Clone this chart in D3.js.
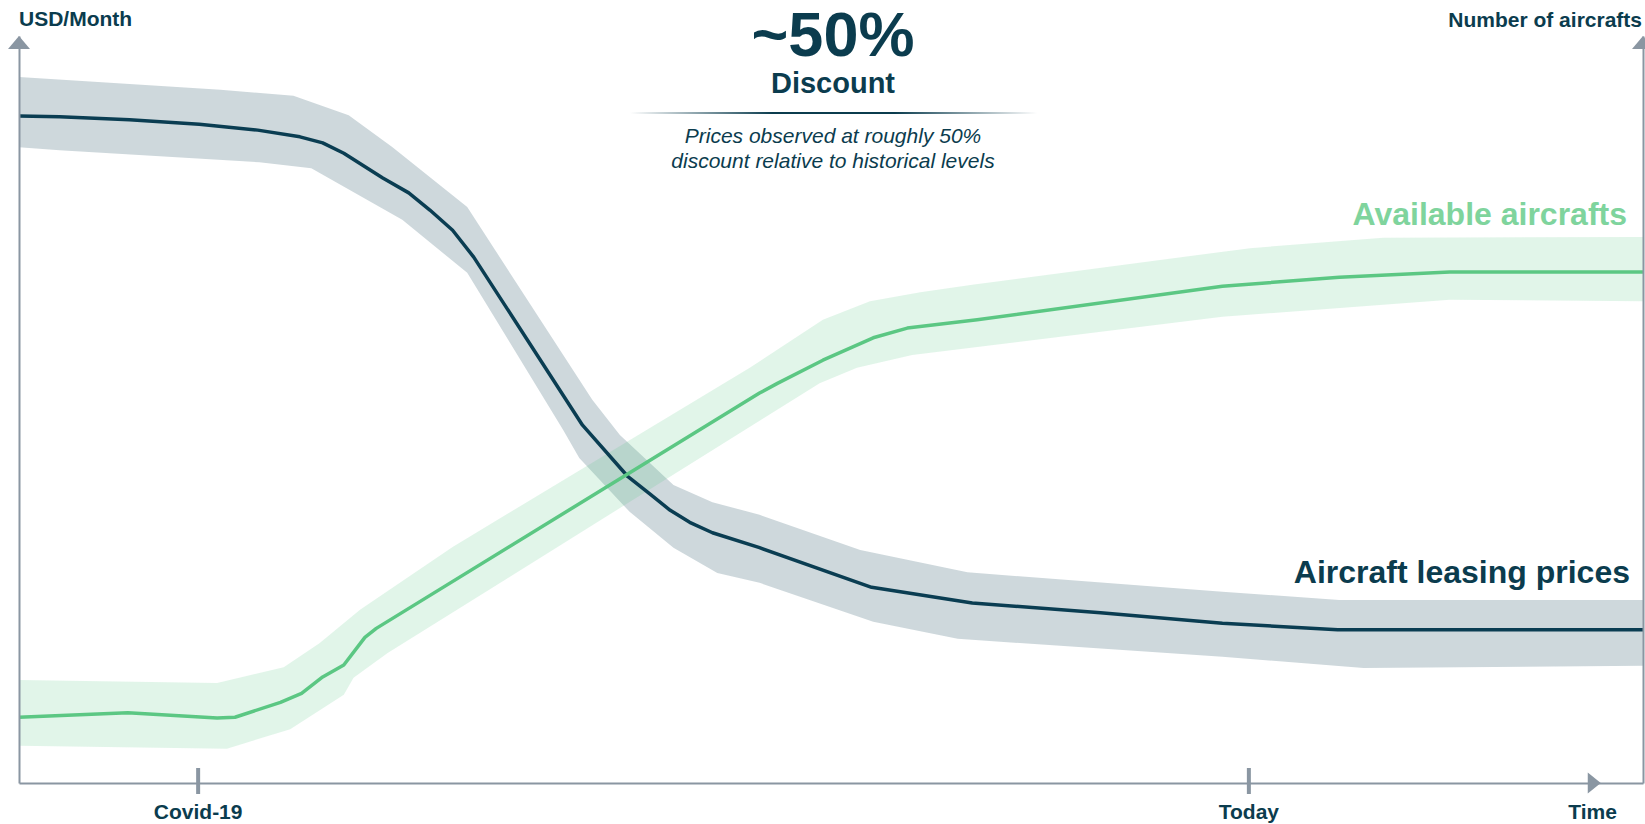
<!DOCTYPE html>
<html>
<head>
<meta charset="utf-8">
<script src="https://cdn.jsdelivr.net/npm/d3@7"></script>
<style>
  body { margin: 0; background: #fff; }
  svg text { font-family: "Liberation Sans", Arial, sans-serif; }
</style>
</head>
<body>
<script>
// Chart params
var svgWidth = 1645;
var svgHeight = 824;
var darkColor = "#0a3d52";
var greenColor = "#5bc783";
var axisColor = "#8a96a2";
var textColor = "#0b3c4e";

// Data: [time, value] on a 0-100 scale (schematic chart, no real units)
var timeDomain = [0, 100];
var valueDomain = [0, 100];
var tickTimes = [11.0, 75.7];
var tickLabels = ["Covid-19", "Today"];

var priceLine = [[0, 89.3], [2.5, 89.2], [6.8, 88.8], [11.1, 88.2], [14.7, 87.4], [17.3, 86.5],
  [18.7, 85.7], [20.0, 84.3], [22.4, 81.0], [24.0, 79.0], [25.3, 76.7], [26.7, 74.0], [28.0, 70.4],
  [34.7, 47.9], [37.5, 41.0], [38.9, 38.6], [40.1, 36.5], [41.3, 34.9], [42.7, 33.5], [45.6, 31.5],
  [52.5, 26.2], [58.7, 24.1], [66.6, 22.8], [74.1, 21.4], [81.2, 20.5], [100, 20.5]];
var priceUpper = [[0, 94.5], [12.4, 92.8], [16.9, 92.0], [20.3, 89.4], [23.0, 85.1], [27.6, 77.1],
  [35.3, 51.3], [37.0, 46.6], [40.3, 39.9], [42.7, 37.6], [45.6, 35.9], [51.8, 31.2], [58.4, 28.2],
  [74.1, 25.6], [81.3, 24.5], [100, 24.5]];
var priceLower = [[0, 85.1], [2.5, 84.7], [14.8, 83.1], [18.0, 82.3], [23.6, 75.4], [27.6, 68.3],
  [33.5, 47.3], [34.5, 43.5], [37.6, 36.3], [40.3, 31.5], [43.0, 28.1], [45.6, 26.8], [52.6, 21.6],
  [57.8, 19.3], [74.1, 16.9], [82.8, 15.4], [100, 15.7]];

var fleetLine = [[0, 8.8], [6.7, 9.4], [12.2, 8.7], [13.3, 8.8], [16.1, 10.8], [17.4, 12.0],
  [18.7, 14.2], [20.0, 15.8], [21.3, 19.5], [22.0, 20.7], [45.6, 52.2], [46.7, 53.5], [49.5, 56.6],
  [52.6, 59.6], [54.7, 60.9], [59.0, 62.0], [74.1, 66.5], [81.3, 67.7], [88.1, 68.4], [100, 68.4]];
var fleetUpper = [[0, 13.8], [12.2, 13.4], [16.3, 15.5], [18.5, 18.7], [21.0, 23.2], [26.7, 31.6],
  [45.0, 55.6], [49.5, 62.0], [52.4, 64.5], [55.5, 65.7], [58.7, 66.7], [75.8, 71.6], [84.0, 73.0],
  [100, 73.1]];
var fleetLower = [[0, 5.0], [12.8, 4.6], [16.7, 7.2], [20.0, 11.8], [20.6, 14.1], [22.7, 17.4],
  [49.3, 53.5], [51.6, 55.6], [55.0, 57.3], [74.1, 62.4], [88.1, 64.7], [100, 64.5]];

var svg = d3.select("body")
  .append("svg")
  .attr("width", svgWidth)
  .attr("height", svgHeight);

// Scales
var x = d3.scaleLinear().domain(timeDomain).range([19, 1643]);
var y = d3.scaleLinear().domain(valueDomain).range([783, 36]);

var line = d3.line()
  .x(d => x(d[0]))
  .y(d => y(d[1]));

function band(upper, lower) {
  return line(upper.concat(lower.slice().reverse())) + "Z";
}

// Bands
svg.append("path")
  .attr("d", band(priceUpper, priceLower))
  .attr("fill", darkColor)
  .attr("opacity", 0.2);

svg.append("path")
  .attr("d", band(fleetUpper, fleetLower))
  .attr("fill", greenColor)
  .attr("opacity", 0.18);

// Lines
svg.append("path")
  .attr("d", line(priceLine))
  .attr("fill", "none")
  .attr("stroke", darkColor)
  .attr("stroke-width", 3.5)
  .attr("stroke-linejoin", "round");

svg.append("path")
  .attr("d", line(fleetLine))
  .attr("fill", "none")
  .attr("stroke", greenColor)
  .attr("stroke-width", 3.5)
  .attr("stroke-linejoin", "round");

// Axes
var bottomAxis = d3.axisBottom(x)
  .tickValues(tickTimes)
  .tickFormat((d, i) => tickLabels[i])
  .tickSizeOuter(0);

var xAxis = svg.append("g")
  .attr("transform", `translate(0, ${y(0)})`)
  .call(bottomAxis);

xAxis.select(".domain").attr("stroke", axisColor).attr("stroke-width", 2);
xAxis.selectAll(".tick line")
  .attr("stroke", axisColor)
  .attr("stroke-width", 4)
  .attr("y1", -15)
  .attr("y2", 11);
xAxis.selectAll(".tick text")
  .attr("y", 36)
  .attr("dy", 0)
  .attr("fill", textColor)
  .attr("font-size", 21)
  .attr("font-weight", "bold");

var leftAxis = d3.axisLeft(y).tickValues([]).tickSizeOuter(0);
var rightAxis = d3.axisRight(y).tickValues([]).tickSizeOuter(0);

svg.append("g")
  .attr("transform", `translate(${x(0)}, 0)`)
  .call(leftAxis)
  .select(".domain").attr("stroke", axisColor).attr("stroke-width", 2);

svg.append("g")
  .attr("transform", `translate(${x(100)}, 0)`)
  .call(rightAxis)
  .select(".domain").attr("stroke", axisColor).attr("stroke-width", 2);

// Arrow heads
function upArrow(cx) {
  svg.append("path")
    .attr("d", `M${cx},${y(100)} L${cx + 11},${y(100) + 13} L${cx - 11},${y(100) + 13} Z`)
    .attr("fill", axisColor);
}
upArrow(x(0));
upArrow(x(100));

var arrowT = 97.4;
svg.append("path")
  .attr("d", `M${x(arrowT)},${y(0)} L${x(arrowT) - 13},${y(0) - 10.5} L${x(arrowT) - 13},${y(0) + 10.5} Z`)
  .attr("fill", axisColor);

// Axis titles
svg.append("text")
  .attr("x", 19).attr("y", 26)
  .attr("fill", textColor).attr("font-size", 21).attr("font-weight", "bold")
  .text("USD/Month");

svg.append("text")
  .attr("x", 1642).attr("y", 27)
  .attr("text-anchor", "end")
  .attr("fill", textColor).attr("font-size", 21).attr("font-weight", "bold")
  .text("Number of aircrafts");

svg.append("text")
  .attr("x", x(96.9)).attr("y", 819)
  .attr("text-anchor", "middle")
  .attr("fill", textColor).attr("font-size", 21).attr("font-weight", "bold")
  .text("Time");

// Series labels
svg.append("text")
  .attr("x", 1627).attr("y", 225)
  .attr("text-anchor", "end")
  .attr("fill", "#7fd49d").attr("font-size", 32).attr("font-weight", "bold")
  .text("Available aircrafts");

svg.append("text")
  .attr("x", 1630).attr("y", 583)
  .attr("text-anchor", "end")
  .attr("fill", textColor).attr("font-size", 32).attr("font-weight", "bold")
  .text("Aircraft leasing prices");

// Discount callout
var cx = 833;
svg.append("text")
  .attr("x", cx).attr("y", 56)
  .attr("text-anchor", "middle")
  .attr("fill", textColor).attr("font-size", 63).attr("font-weight", "bold")
  .text("~50%");

svg.append("text")
  .attr("x", cx).attr("y", 93)
  .attr("text-anchor", "middle")
  .attr("fill", textColor).attr("font-size", 29).attr("font-weight", "bold")
  .text("Discount");

var grad = svg.append("defs").append("linearGradient")
  .attr("id", "rule")
  .attr("x1", "0%").attr("x2", "100%");
grad.append("stop").attr("offset", "0%").attr("stop-color", textColor).attr("stop-opacity", 0);
grad.append("stop").attr("offset", "35%").attr("stop-color", textColor).attr("stop-opacity", 1);
grad.append("stop").attr("offset", "65%").attr("stop-color", textColor).attr("stop-opacity", 1);
grad.append("stop").attr("offset", "100%").attr("stop-color", textColor).attr("stop-opacity", 0);

svg.append("rect")
  .attr("x", 630).attr("y", 112)
  .attr("width", 407).attr("height", 2)
  .attr("fill", "url(#rule)");

svg.append("text")
  .attr("x", cx).attr("y", 143)
  .attr("text-anchor", "middle")
  .attr("fill", textColor).attr("font-size", 21).attr("font-style", "italic")
  .text("Prices observed at roughly 50%");

svg.append("text")
  .attr("x", cx).attr("y", 168)
  .attr("text-anchor", "middle")
  .attr("fill", textColor).attr("font-size", 21).attr("font-style", "italic")
  .text("discount relative to historical levels");
</script>
</body>
</html>
